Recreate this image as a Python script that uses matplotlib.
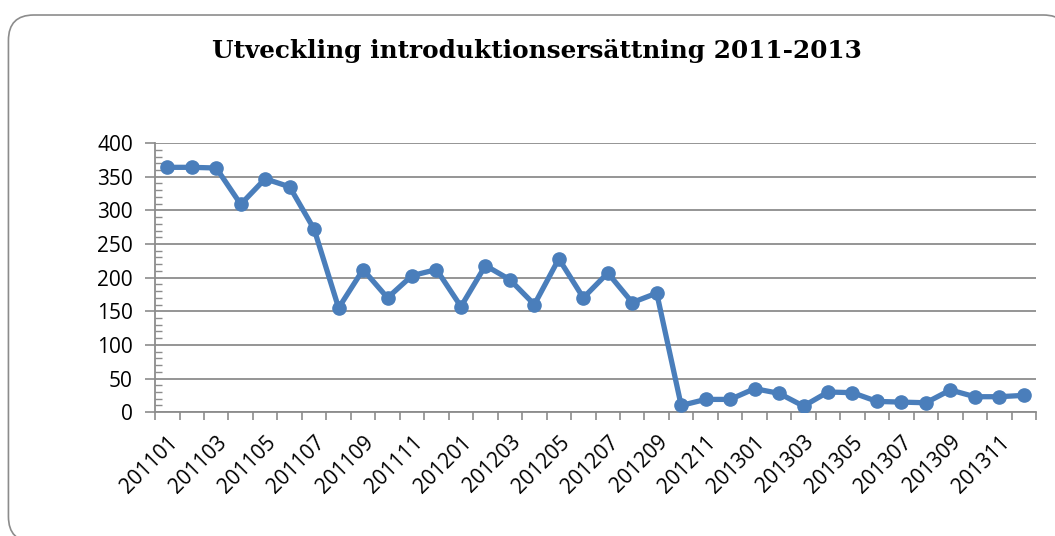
import matplotlib.pyplot as plt
import numpy as np
from matplotlib.patches import FancyBboxPatch
from matplotlib.ticker import MultipleLocator
from matplotlib.transforms import ScaledTranslation

# months 201101..201312
months = [f"{y}{m:02d}" for y in (2011, 2012, 2013) for m in range(1, 13)]
values = [364, 364, 363, 309, 347, 335, 272, 155, 212, 170, 203, 212,
          157, 218, 197, 160, 228, 170, 207, 163, 177, 10, 19, 19,
          35, 28, 9, 30, 29, 16, 15, 14, 33, 23, 23, 25]

title = "Utveckling introduktionsersättning 2011-2013"

fig = plt.figure(figsize=(10.55, 5.36), dpi=100)

# rounded chart frame (runs off the right/bottom edge like the original)
frame = FancyBboxPatch((0.008, -0.011), 1.005, 0.983, transform=fig.transFigure,
                       boxstyle="round,pad=0,rounding_size=0.024",
                       facecolor="white", edgecolor="#8c8c8c", linewidth=1.2,
                       mutation_aspect=1055 / 536, zorder=0)
fig.patches.append(frame)

ax = fig.add_axes([0.147, 0.231, 0.835, 0.502])
ax.set_zorder(1)
ax.patch.set_alpha(0)
x = np.arange(len(values))
ax.plot(x, values, color="#4A7EBB", linewidth=3.8, marker="o", markersize=9.5,
        solid_joinstyle="round", zorder=3)

ax.set_xlim(-0.5, len(values) - 0.5)
ax.set_ylim(0, 400)
ax.yaxis.set_major_locator(MultipleLocator(50))
ax.yaxis.set_minor_locator(MultipleLocator(10))
ax.grid(axis="y", color="#8c8c8c", linewidth=1.3)
ax.set_axisbelow(True)

ax.set_xticks(x[::2])
ax.set_xticklabels(months[::2], rotation=45, ha="right", va="top",
                   rotation_mode="anchor", fontsize=15, family="Open Sans")
shift = ScaledTranslation(6 / 72, 0, fig.dpi_scale_trans)
for lbl in ax.get_xticklabels():
    lbl.set_transform(lbl.get_transform() + shift)
ax.set_xticks(np.arange(-0.5, len(values)), minor=True)
ax.tick_params(axis="x", which="major", length=0, pad=14)
ax.tick_params(axis="x", which="minor", length=6, color="#8c8c8c", width=1.2, direction="out")
ax.tick_params(axis="y", which="major", length=7, color="#8c8c8c", width=1.2,
               labelsize=15, pad=9)
ax.tick_params(axis="y", which="minor", length=5, color="#8c8c8c", width=1.0, direction="in")
for lbl in ax.get_yticklabels():
    lbl.set_family("Open Sans")

for s in ("top", "right"):
    ax.spines[s].set_visible(False)
for s in ("left", "bottom"):
    ax.spines[s].set_color("#8c8c8c")
    ax.spines[s].set_linewidth(1.3)

fig.text(0.509, 0.905, title, ha="center", va="center", fontsize=17.8,
         fontweight="bold", family="DejaVu Serif")

fig.savefig("out.png", dpi=100)
